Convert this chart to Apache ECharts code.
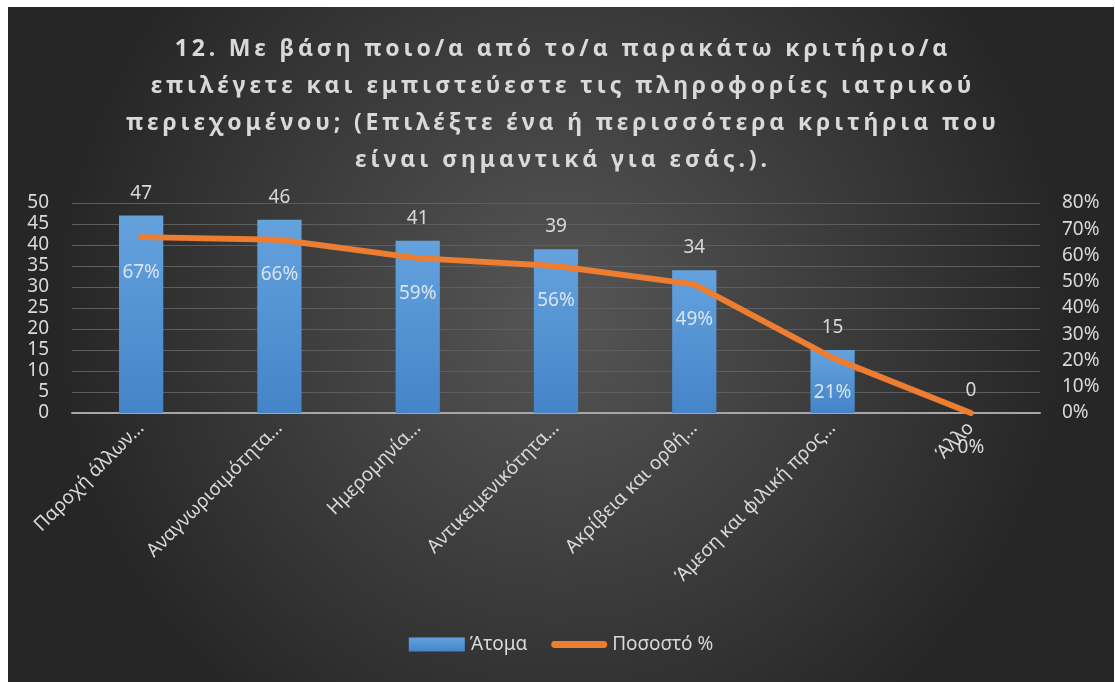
<!DOCTYPE html>
<html>
<head>
<meta charset="utf-8">
<script src="https://cdn.jsdelivr.net/npm/echarts@6/dist/echarts.min.js"></script>
<style>
  html, body { margin: 0; padding: 0; background: #ffffff; }
  #chart { position: absolute; left: 8px; top: 7px; width: 1106px; height: 675px; }
</style>
</head>
<body>
<div id="chart"></div>
<script>
// κατηγορίες και τιμές
const categories = ['Παροχή άλλων…', 'Αναγνωρισιμότητα…', 'Ημερομηνία…', 'Αντικειμενικότητα…', 'Ακρίβεια και ορθή…', 'Άμεση και φιλική προς…', 'Άλλο'];
const persons = [47, 46, 41, 39, 34, 15, 0];
const percents = [67, 66, 59, 56, 49, 21, 0];
const titleLines = [
  '12. Με βάση ποιο/α από το/α παρακάτω κριτήριο/α',
  'επιλέγετε και εμπιστεύεστε τις πληροφορίες ιατρικού',
  'περιεχομένου; (Επιλέξτε ένα ή περισσότερα κριτήρια που',
  'είναι σημαντικά για εσάς.).'
];

// αραιό γράμμα στον τίτλο (six-per-em space ανάμεσα στους χαρακτήρες)
function spaced(s) {
  return s.split('').join('\u2006');
}

const chart = echarts.init(document.getElementById('chart'));
const font = '"Noto Sans", "Open Sans", sans-serif';
const textColor = '#d9d9d9';

const option = {
  backgroundColor: new echarts.graphic.RadialGradient(0.5, 0.45, 0.75, [
    { offset: 0, color: '#565656' },
    { offset: 1, color: '#262626' }
  ]),
  textStyle: { fontFamily: font },
  title: {
    text: titleLines.map(spaced).join('\n'),
    left: 'center',
    top: 19,
    textStyle: {
      color: textColor,
      fontSize: 23,
      fontWeight: 'bold',
      lineHeight: 37,
      fontFamily: font
    }
  },
  legend: {
    bottom: 23,
    left: 'center',
    itemWidth: 56,
    itemHeight: 14,
    itemGap: 24,
    textStyle: { color: textColor, fontSize: 19 },
    data: [
      { name: 'Άτομα', icon: 'rect' },
      { name: 'Ποσοστό %', icon: 'path://M3,0 H53 A3,3 0 0 1 53,7 H3 A3,3 0 0 1 3,0 Z' }
    ]
  },
  grid: { left: 64, right: 74, top: 196, bottom: 269 },
  xAxis: {
    type: 'category',
    data: categories,
    axisLine: { lineStyle: { color: '#a6a6a6', width: 2 } },
    axisTick: { show: false },
    axisLabel: { color: textColor, fontSize: 19, rotate: 45, margin: 12, interval: 0 }
  },
  yAxis: [
    {
      type: 'value',
      min: 0,
      max: 50,
      interval: 5,
      axisLine: { show: false },
      axisTick: { show: false },
      axisLabel: { color: textColor, fontSize: 19, margin: 23 },
      splitLine: { lineStyle: { color: '#5e5e5e', width: 1 } }
    },
    {
      type: 'value',
      min: 0,
      max: 80,
      interval: 10,
      axisLine: { show: false },
      axisTick: { show: false },
      axisLabel: { color: textColor, fontSize: 19, margin: 22, formatter: '{value}%' },
      splitLine: { show: false }
    }
  ],
  series: [
    {
      name: 'Άτομα',
      type: 'bar',
      data: persons,
      barWidth: '32%',
      itemStyle: {
        color: new echarts.graphic.LinearGradient(0, 0, 0, 1, [
          { offset: 0, color: '#64a2de' },
          { offset: 1, color: '#4484c8' }
        ])
      },
      label: {
        show: true,
        position: 'top',
        distance: 13,
        color: textColor,
        fontSize: 19
      }
    },
    {
      name: 'Ποσοστό %',
      type: 'line',
      yAxisIndex: 1,
      data: percents,
      symbol: 'circle',
      symbolSize: 1,
      showSymbol: true,
      lineStyle: { color: '#ed7d31', width: 6, cap: 'round', join: 'round' },
      itemStyle: { color: '#ed7d31' },
      label: {
        show: true,
        position: 'bottom',
        distance: 25,
        color: 'rgba(232,236,242,0.9)',
        fontSize: 19,
        formatter: '{c}%'
      },
      z: 3
    }
  ]
};

chart.setOption(option);
</script>
</body>
</html>
